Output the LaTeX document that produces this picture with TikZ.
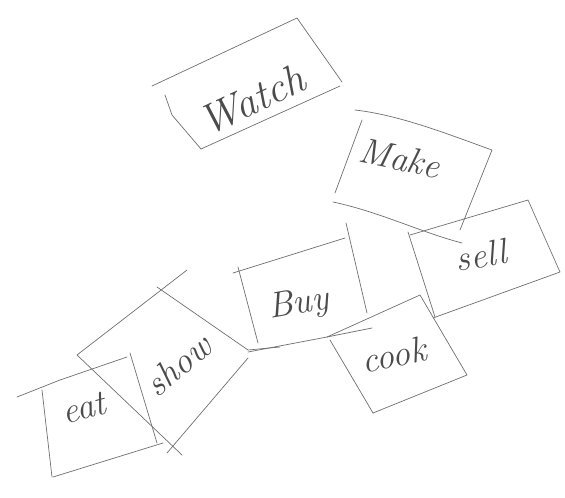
\documentclass[tikz,border=0pt]{standalone}
\begin{document}
\begin{tikzpicture}[x=1pt,y=-1pt,
  pen/.style={draw={rgb,255:red,110;green,110;blue,110},line width=0.7pt,line cap=round,line join=round},
  word/.style={text={rgb,255:red,75;green,75;blue,75},font=\itshape,inner sep=0pt},
  big/.style={font=\fontsize{42}{44}\selectfont\itshape},
  mid/.style={font=\fontsize{36}{38}\selectfont\itshape}]
\useasboundingbox (0,0) rectangle (565,498);
% Watch
\draw[pen] (152,86) -- (297,18) -- (342,82);
\draw[pen] (340,86) -- (201,149);
\draw[pen] (165,95) -- (172,115) -- (201,149);
\node[word,big,rotate=25] (watch) at (252,100) {Watch};
% Make
\draw[pen] (355,110) .. controls (400,115) and (450,135) .. (492,150) -- (460,230);
\draw[pen] (362,120) -- (335,193);
\draw[pen] (333,202) .. controls (380,212) and (420,232) .. (462,243);
\node[word,mid,rotate=-12] (make) at (400,158) {Make};
% sell
\draw[pen] (410,235) -- (528,200) -- (560,272) -- (433,318);
\draw[pen] (408,232) -- (435,317);
\node[word,mid,rotate=10] (sell) at (481,255) {sell};
% Buy
\draw[pen] (233,273) -- (345,238);
\draw[pen] (346,223) -- (367,313);
\draw[pen] (238,267) -- (258,343);
\draw[pen] (248,352) -- (327,337) -- (372,328);
\node[word,mid,rotate=10] (buy) at (299,305) {Buy};
% cook
\draw[pen] (327,337) -- (420,295) -- (467,375) -- (373,413);
\draw[pen] (330,340) -- (373,413);
\node[word,mid,rotate=12] (cook) at (394,355) {cook};
% show
\draw[pen] (77,355) -- (187,270);
\draw[pen] (157,287) -- (248,350) -- (280,347);
\draw[pen] (248,358) -- (167,453);
\draw[pen] (77,355) -- (182,455);
\draw[pen] (130,353) -- (157,443);
\node[word,mid,rotate=40] (show) at (178,365) {show};
% eat
\draw[pen] (17,397) -- (60,380) -- (127,357);
\draw[pen] (42,390) -- (52,477);
\draw[pen] (53,477) -- (163,443);
\node[word,mid,rotate=15] (eat) at (84,408) {eat};
\end{tikzpicture}
\end{document}
